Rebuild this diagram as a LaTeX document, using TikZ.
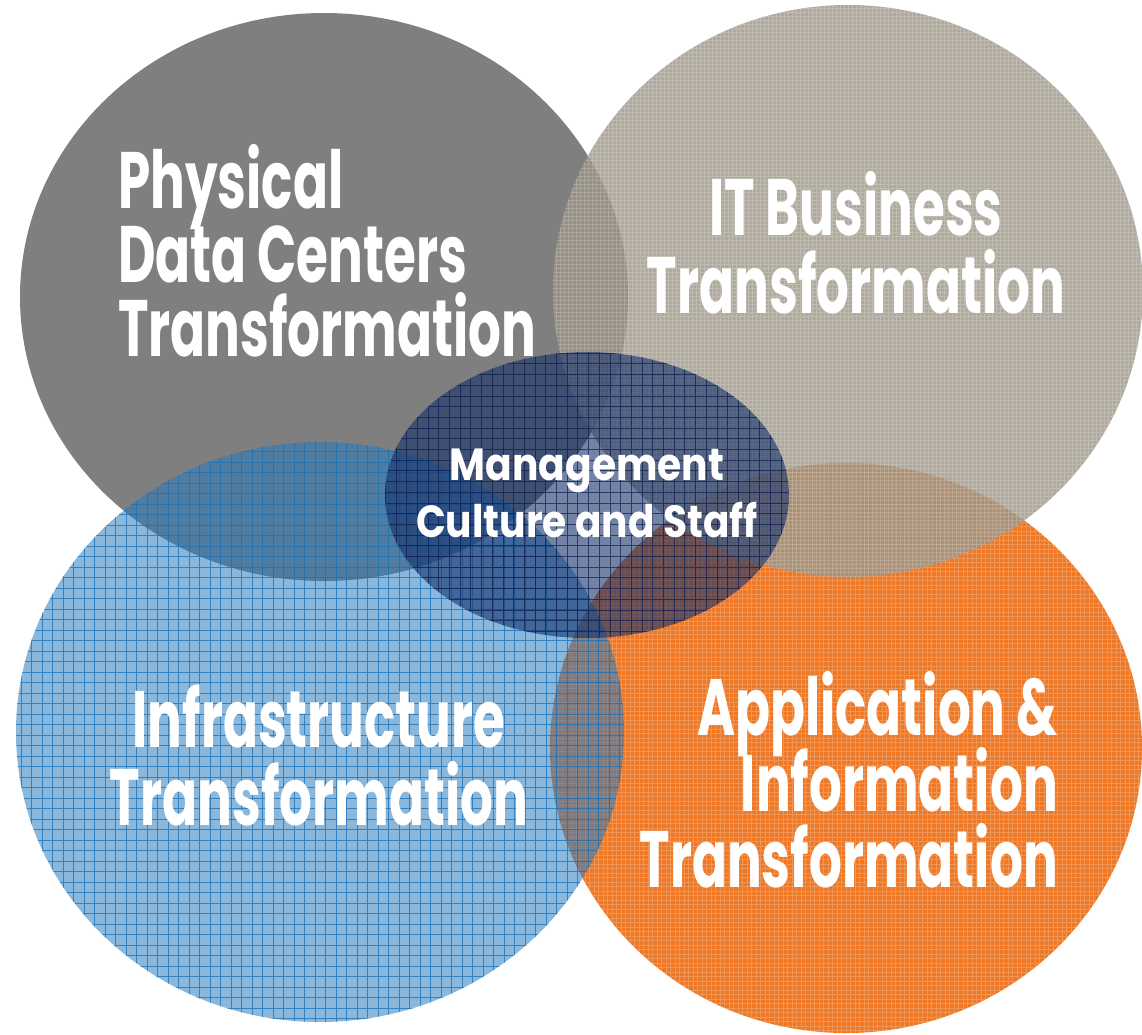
\documentclass[tikz,border=0pt]{standalone}
\usepackage{fontspec}
\setmainfont{Poppins}
\newfontfamily\bigfam{Poppins}[FakeStretch=0.645]
\newfontfamily\midfam{Poppins}[FakeStretch=0.87]
\definecolor{graydisk}{HTML}{7F7F7F}
\definecolor{orangedisk}{HTML}{EE7826}
\definecolor{bluedisk}{HTML}{2A7BBF}
\definecolor{bluegrid}{HTML}{1870B6}
\definecolor{beigedisk}{HTML}{9C9586}
\definecolor{navydisk}{HTML}{14306A}
\definecolor{navygrid}{HTML}{0A1C4E}
\newcommand{\tallstrut}{\rule{0pt}{64pt}}
\newcommand{\medstrut}{\rule{0pt}{36pt}}
\newcommand{\bigleadA}{\bigfam\bfseries\fontsize{80}{74}\selectfont\lineskiplimit=-200pt\relax}
\newcommand{\bigleadB}{\bigfam\bfseries\fontsize{80}{78}\selectfont\lineskiplimit=-200pt\relax}
\newcommand{\bigleadC}{\bigfam\bfseries\fontsize{80}{76}\selectfont\lineskiplimit=-200pt\relax}
\newcommand{\midlead}{\midfam\bfseries\fontsize{45}{57}\selectfont\lineskiplimit=-200pt\relax}
\tikzset{
  lbl/.style={text=white, inner sep=0pt}
}
\begin{document}
\begin{tikzpicture}[x=1pt,y=-1pt]
\useasboundingbox (0,0) rectangle (1142,1034);
% gray disk
\fill[graydisk] (324,297) ellipse [x radius=304pt, y radius=284pt];
% orange disk
\begin{scope}
  \clip (846,748) ellipse [x radius=296pt, y radius=285pt];
  \fill[orangedisk] (540,450) rectangle (1150,1040);
  \draw[white, opacity=.22, line width=.7pt, step=4.5pt] (540,450) grid (1150,1040);
\end{scope}
% blue disk
\begin{scope}
  \clip (320,732) ellipse [x radius=304pt, y radius=290pt];
  \fill[bluedisk, opacity=.55] (0,430) rectangle (640,1034);
  \draw[bluegrid, opacity=.75, line width=.7pt, step=10.5pt] (0,430) grid (640,1034);
\end{scope}
% beige disk
\begin{scope}
  \clip (848,291) ellipse [x radius=295pt, y radius=286pt];
  \fill[beigedisk, opacity=.8] (540,0) rectangle (1150,590);
  \draw[white, opacity=.2, line width=.7pt, step=4pt] (540,0) grid (1150,590);
\end{scope}
% navy ellipse
\begin{scope}
  \clip (587,495) ellipse [x radius=202pt, y radius=143pt];
  \fill[navydisk, opacity=.6] (380,350) rectangle (800,640);
  \draw[navygrid, opacity=.7, line width=.7pt, step=10.7pt] (380,350) grid (800,640);
\end{scope}
% labels
\node[lbl, font=\bigleadA, anchor=north west, align=left] (phys) at (118,144) {\tallstrut Physical\\Data Centers\\Transformation};
\node[lbl, font=\bigleadB, anchor=north, align=center] (itbus) at (856,171) {\tallstrut IT Business\\Transformation};
\node[lbl, font=\bigleadB, anchor=north, align=center] (infra) at (319,683) {\tallstrut Infrastructure\\Transformation};
\node[lbl, font=\bigleadC, anchor=north east, align=right] (appl) at (1058,671) {\tallstrut Application \&\\Information\\Transformation};
\node[lbl, font=\midlead, anchor=north, align=center] (mgmt) at (587,444) {\medstrut Management\\Culture and Staff};
\end{tikzpicture}
\end{document}
